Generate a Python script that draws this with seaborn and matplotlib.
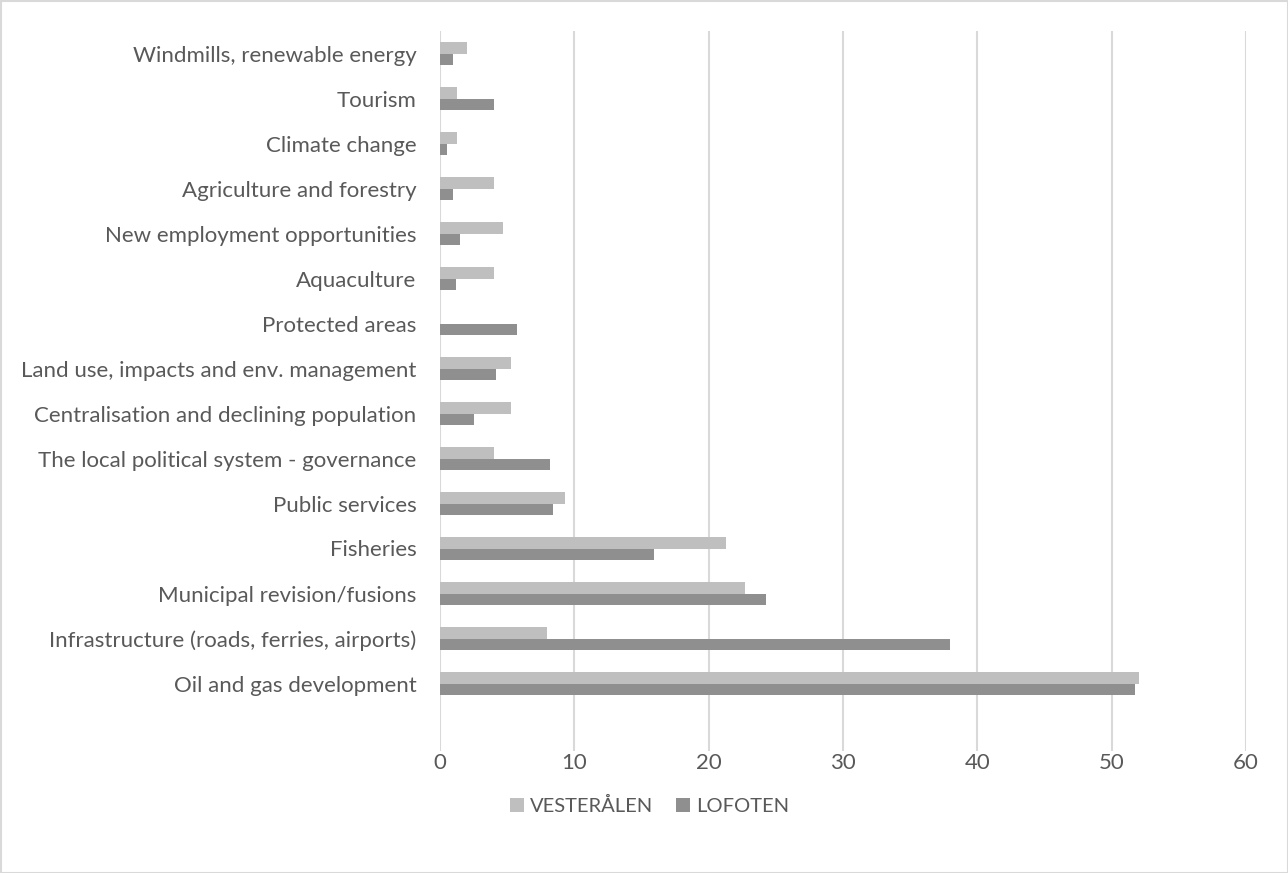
import matplotlib
matplotlib.use("Agg")
import matplotlib.pyplot as plt
from matplotlib.patches import Rectangle, Patch
import seaborn as sns
import pandas as pd

# Topics, listed top to bottom
categories = [
    "Windmills, renewable energy",
    "Tourism",
    "Climate change",
    "Agriculture and forestry",
    "New employment opportunities",
    "Aquaculture",
    "Protected areas",
    "Land use, impacts and env. management",
    "Centralisation and declining population",
    "The local political system - governance",
    "Public services",
    "Fisheries",
    "Municipal revision/fusions",
    "Infrastructure (roads, ferries, airports)",
    "Oil and gas development",
]
vesteralen = [2.0, 1.3, 1.3, 4.0, 4.7, 4.0, 0.0, 5.3, 5.3, 4.0, 9.3, 21.3, 22.7, 8.0, 52.0]
lofoten = [1.0, 4.0, 0.5, 1.0, 1.5, 1.2, 5.7, 4.2, 2.5, 8.2, 8.4, 15.9, 24.3, 38.0, 51.7]
series_names = ["VESTERÅLEN", "LOFOTEN"]
x_ticks = [0, 10, 20, 30, 40, 50, 60]

df = pd.DataFrame({
    "topic": categories * 2,
    "region": [series_names[0]] * len(categories) + [series_names[1]] * len(categories),
    "value": vesteralen + lofoten,
})

sns.set_theme(style="white")
plt.rcParams["font.family"] = ["Lato", "DejaVu Sans"]

text_color = "#595959"
grid_color = "#D9D9D9"
colors = {series_names[0]: "#BFBFBF", series_names[1]: "#8F8F8F"}

fig = plt.figure(figsize=(12.88, 8.73), dpi=100)
ax = fig.add_axes([440 / 1288, 1 - 751 / 873, (1246 - 440) / 1288, 720 / 873])

sns.barplot(
    data=df, y="topic", x="value", hue="region",
    order=categories, hue_order=series_names, palette=colors,
    orient="h", width=0.51, dodge=True, saturation=1,
    linewidth=0, ax=ax, legend=False,
)

ax.set_xlim(0, 60)
ax.set_ylim(len(categories) + 0.5, -0.5)
ax.set_xticks(x_ticks)
ax.set_xticklabels([str(t) for t in x_ticks])
ax.xaxis.grid(True, color=grid_color, linewidth=1.5)
ax.yaxis.grid(False)
ax.set_axisbelow(True)
for s in ax.spines.values():
    s.set_visible(False)
ax.set_xlabel("")
ax.set_ylabel("")
ax.tick_params(axis="both", length=0, labelsize=16, colors=text_color)
ax.tick_params(axis="x", pad=1.5)
ax.tick_params(axis="y", pad=17)

handles = [Patch(facecolor=colors[n], edgecolor="none") for n in series_names]
fig.legend(
    handles, series_names, loc="center", bbox_to_anchor=(0.5043, 1 - 806 / 873),
    ncol=2, frameon=False, fontsize=14.5, labelcolor=text_color,
    handlelength=0.7, handleheight=0.7, handletextpad=0.3, columnspacing=1.15,
)

fig.patches.append(Rectangle((0.5 / 1288, 0.5 / 873), 1 - 1 / 1288, 1 - 1 / 873,
                             transform=fig.transFigure, fill=False,
                             edgecolor="#D9D9D9", linewidth=1.5))

fig.savefig("out.png", dpi=100, facecolor="white")
